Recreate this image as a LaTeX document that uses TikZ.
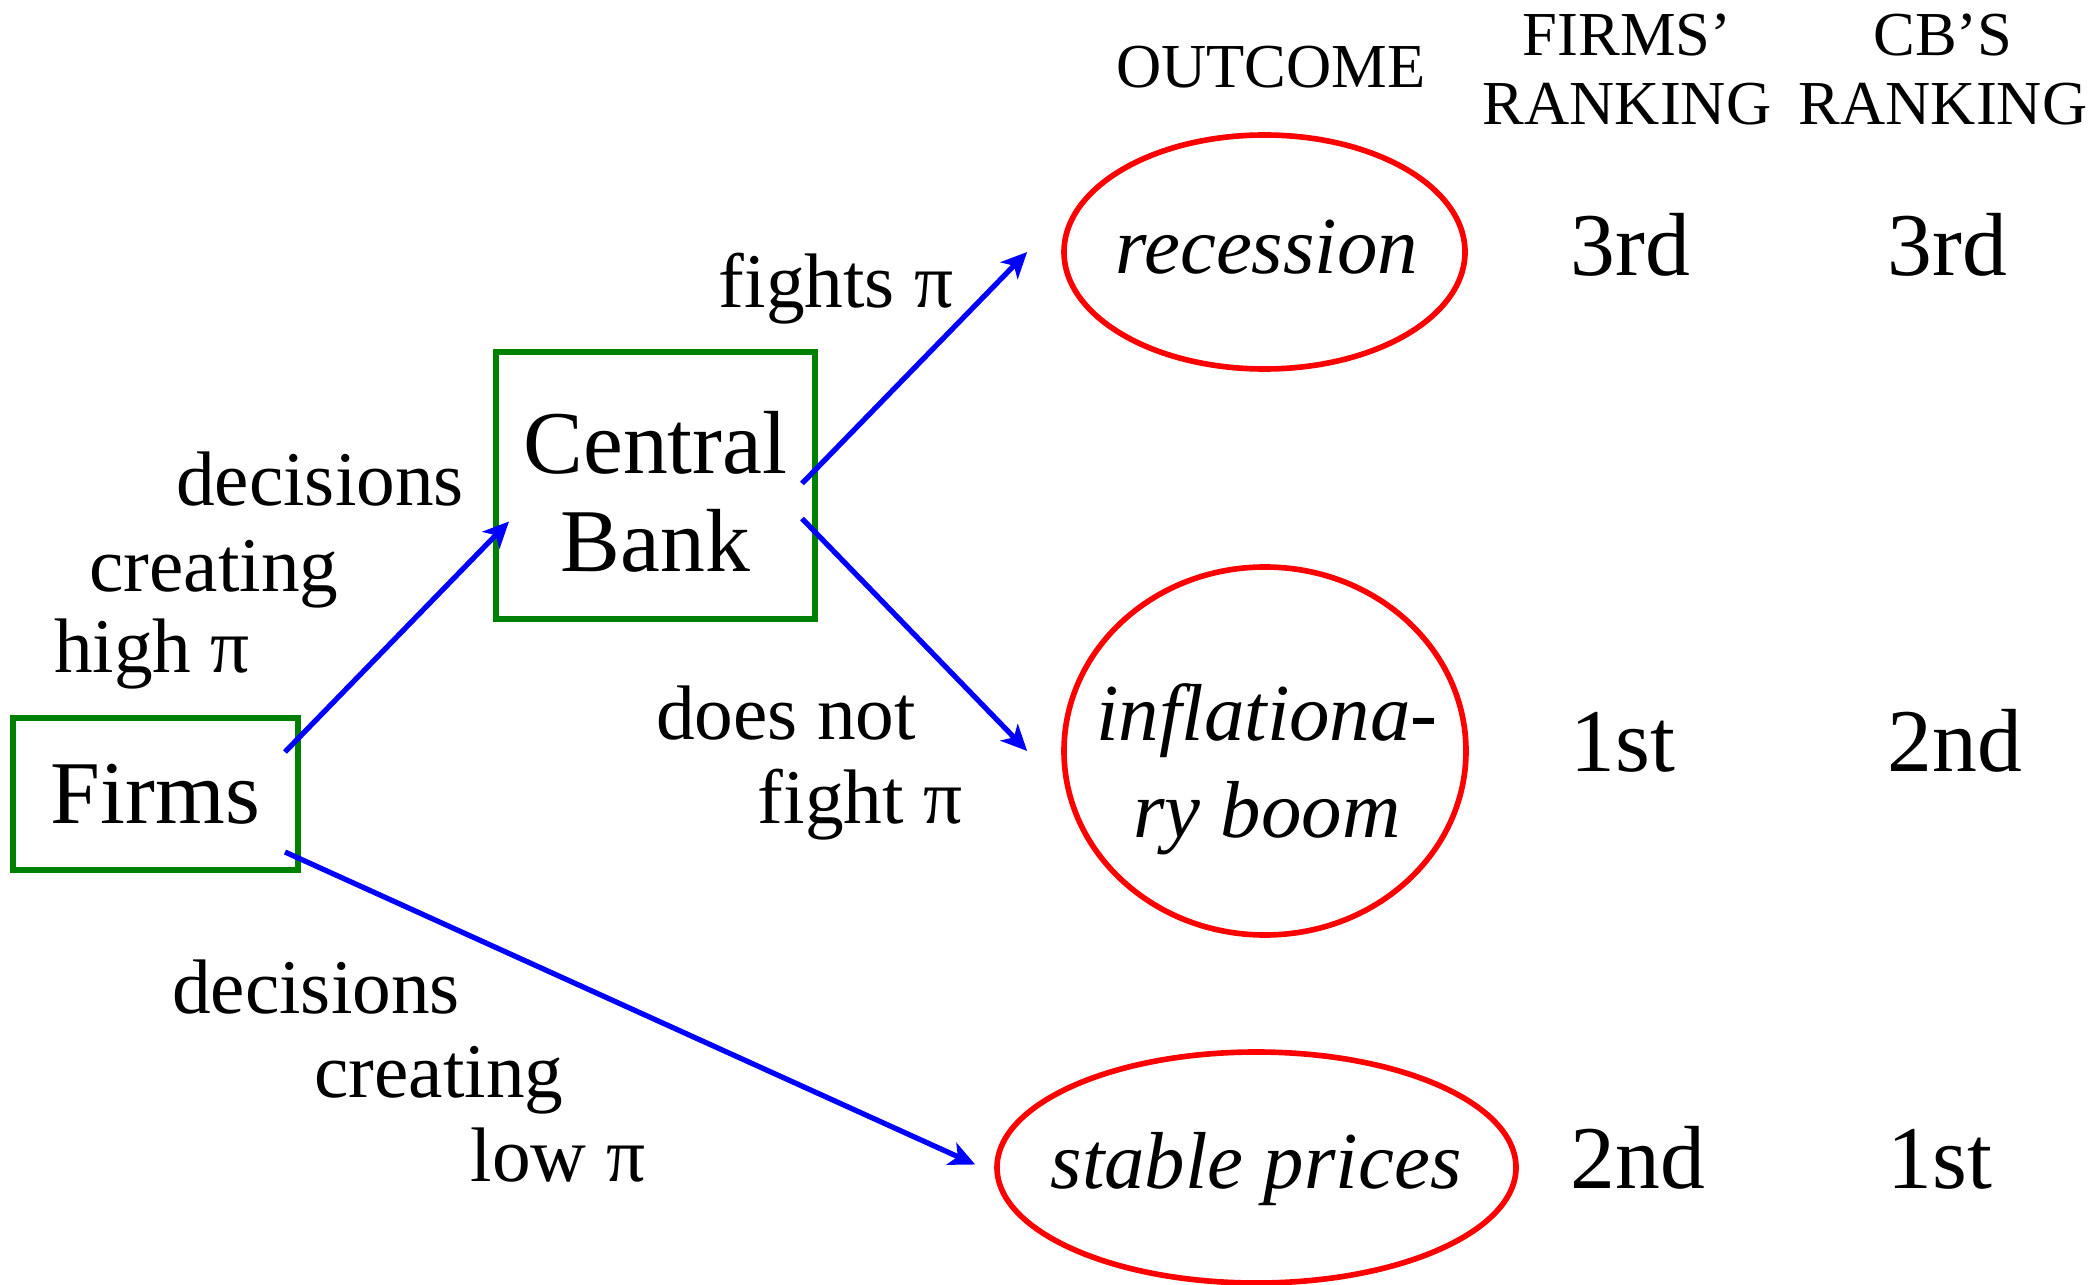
\documentclass[tikz,border=0pt]{standalone}
\usepackage{fontspec}
\setmainfont{Liberation Serif}
\usepackage{tikz}
\usetikzlibrary{arrows.meta,shapes.geometric}
\definecolor{gtPlayer}{HTML}{008000}
\definecolor{gtMove}{HTML}{0000FF}
\definecolor{gtOutcome}{HTML}{FF0000}
\tikzset{
  gt diagram/.style={line cap=butt, line join=miter},
  gt player/.style={draw=gtPlayer, line width=1.7pt, align=center,
    inner sep=0pt, font=\fontsize{25.5}{28}\selectfont},
  gt outcome/.style={ellipse, draw=gtOutcome, line width=1.6pt, inner sep=0pt},
  gt outcome text/.style={font=\fontsize{23}{27.5}\selectfont\itshape,
    align=center, inner sep=0pt},
  gt move/.style={-{Stealth[length=2.6mm,width=2.4mm,inset=0.7mm]},
    draw=gtMove, line width=1.5pt},
  gt label/.style={font=\fontsize{22}{24}\selectfont, anchor=base, inner sep=0pt},
  gt head/.style={font=\fontsize{17.8}{19.6}\selectfont, align=center, inner sep=0pt},
  gt rank/.style={font=\fontsize{25.5}{28}\selectfont, anchor=base west, inner sep=0pt}
}
\begin{document}
\begin{tikzpicture}[gt diagram]
\useasboundingbox (0,0) rectangle (20.98,-12.85);
% players
\node[gt player,minimum width=2.85cm,minimum height=1.52cm] (firms) at (1.555,-7.94) {Firms};
\node[gt player,minimum width=3.19cm,minimum height=2.67cm,text height=1.73cm,text depth=0pt] (cb) at (6.555,-4.855) {Central\\Bank};
% outcomes
\node[gt outcome,minimum width=4.01cm,minimum height=2.34cm] (rec) at (12.645,-2.52) {};
\node[gt outcome,minimum width=4.02cm,minimum height=3.68cm] (boom) at (12.65,-7.51) {};
\node[gt outcome,minimum width=5.19cm,minimum height=2.31cm] (stab) at (12.565,-11.675) {};
\node[gt outcome text,anchor=base] (recT) at (12.67,-2.74) {recession};
\node[gt outcome text] (boomT) at (12.67,-7.69) {inflationa-\\ry boom};
\node[gt outcome text,anchor=base] (stabT) at (12.56,-11.88) {stable prices};
% column heads
\node[gt head,anchor=base] (hOut) at (12.71,-0.88) {OUTCOME};
\node[gt head] (hFirms) at (16.27,-0.695) {FIRMS’\\RANKING};
\node[gt head] (hCb) at (19.43,-0.695) {CB’S\\RANKING};
% rankings
\node[gt rank] (rFirmsRec) at (15.70,-2.76) {3rd};
\node[gt rank] (rCbRec) at (18.87,-2.76) {3rd};
\node[gt rank] (rFirmsBoom) at (15.70,-7.72) {1st};
\node[gt rank] (rCbBoom) at (18.87,-7.72) {2nd};
\node[gt rank] (rFirmsStab) at (15.70,-11.88) {2nd};
\node[gt rank] (rCbStab) at (18.87,-11.88) {1st};
% move labels
\node[gt label] (hiA) at (3.20,-5.06) {decisions};
\node[gt label] (hiB) at (2.14,-5.91) {creating};
\node[gt label] (hiC) at (1.52,-6.73) {high π};
\node[gt label] (fightYes) at (8.36,-3.08) {fights π};
\node[gt label] (fightNoA) at (7.86,-7.40) {does not};
\node[gt label] (fightNoB) at (8.60,-8.23) {fight π};
\node[gt label] (loA) at (3.16,-10.13) {decisions};
\node[gt label] (loB) at (4.39,-10.97) {creating};
\node[gt label] (loC) at (5.58,-11.81) {low π};
% moves
\draw[gt move] ([shift={(-0.16,0.42)}]firms.east) -- ([shift={(0.16,-0.36)}]cb.west);
\draw[gt move] ([shift={(-0.16,0.02)}]cb.east) -- ([xshift=-0.34cm]rec.west);
\draw[gt move] ([shift={(-0.16,-0.33)}]cb.east) -- ([xshift=-0.34cm]boom.west);
\draw[gt move] ([shift={(-0.16,-0.58)}]firms.east) -- ([shift={(-0.19,0.03)}]stab.west);
\end{tikzpicture}
\end{document}
